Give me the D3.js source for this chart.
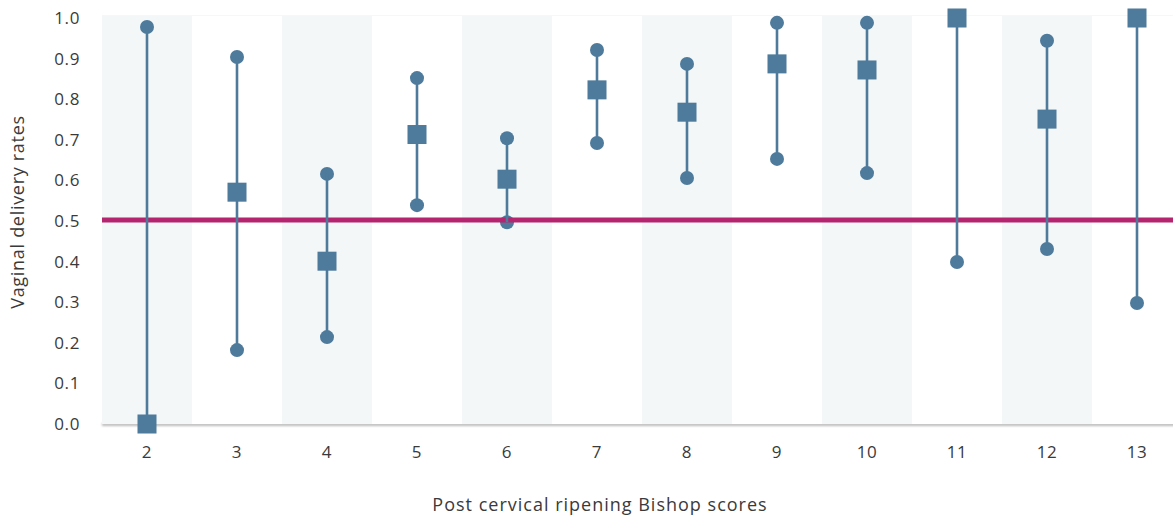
<!DOCTYPE html>
<html>
<head>
<meta charset="utf-8">
<script src="https://cdn.jsdelivr.net/npm/d3@7"></script>
<style>
  body { margin: 0; background: #fff; }
  svg { display: block; font-family: "Open Sans", "Lato", sans-serif; }
</style>
</head>
<body>
<svg id="chart" width="1173" height="519"></svg>
<script>
const categories = ["2","3","4","5","6","7","8","9","10","11","12","13"];
const estimate = [0.0, 0.571, 0.401, 0.713, 0.603, 0.823, 0.768, 0.887, 0.872, 1.0, 0.751, 1.0];
const upper    = [0.978, 0.904, 0.616, 0.852, 0.704, 0.921, 0.887, 0.988, 0.988, 1.0, 0.944, 1.0];
const lower    = [0.0, 0.182, 0.214, 0.539, 0.497, 0.692, 0.606, 0.653, 0.618, 0.399, 0.431, 0.298];
const yTicks = [0, 0.1, 0.2, 0.3, 0.4, 0.5, 0.6, 0.7, 0.8, 0.9, 1.0];
const referenceValue = 0.5;

(function () {
const svg = d3.select("#chart");
const pLeft = 102, pRight = 1182, pTop = 18, pBottom = 424;
const txt = "#3a3a3a";

const x = d3.scaleBand().domain(categories).range([pLeft, pRight]).padding(0);
const y = d3.scaleLinear().domain([0, 1]).range([pBottom, pTop]);

const defs = svg.append("defs");
const f = defs.append("filter").attr("id", "sh").attr("x", "-5%").attr("y", "-50%").attr("width", "110%").attr("height", "300%");
f.append("feGaussianBlur").attr("stdDeviation", 1.2);

// plot area background + shadow
svg.append("rect").attr("x", pLeft).attr("y", pBottom - 1).attr("width", pRight - pLeft).attr("height", 3)
  .attr("fill", "#bbb").attr("filter", "url(#sh)");
svg.append("line").attr("x1", pLeft).attr("x2", pRight).attr("y1", pTop - 2).attr("y2", pTop - 2)
  .attr("stroke", "#eee").attr("stroke-width", 1);
svg.append("rect").attr("x", pLeft).attr("y", pTop - 2).attr("width", pRight - pLeft).attr("height", pBottom - pTop + 2)
  .attr("fill", "#fff");

// alternating bands
svg.append("g").selectAll("rect").data(categories.filter((d, i) => i % 2 === 0)).join("rect")
  .attr("x", d => x(d)).attr("y", pTop - 2).attr("width", x.bandwidth()).attr("height", pBottom - pTop + 2)
  .attr("fill", "#f3f7f8");

const col = "#4e7a9b";
const data = categories.map((c, i) => ({c, e: estimate[i], u: upper[i], l: lower[i]}));
const cx = d => x(d.c) + x.bandwidth() / 2;

// circles (bounds)
const cg = svg.append("g");
cg.selectAll("circle.u").data(data).join("circle").attr("class", "u")
  .attr("cx", cx).attr("cy", d => y(d.u)).attr("r", 7).attr("fill", col);
cg.selectAll("circle.l").data(data).join("circle").attr("class", "l")
  .attr("cx", cx).attr("cy", d => y(d.l)).attr("r", 7).attr("fill", col);

// reference line
svg.append("line").attr("x1", pLeft).attr("x2", pRight)
  .attr("y1", y(referenceValue) - 1).attr("y2", y(referenceValue) - 1)
  .attr("stroke", "#b5246f").attr("stroke-width", 5);

// stems
svg.append("g").selectAll("line").data(data).join("line")
  .attr("x1", cx).attr("x2", cx)
  .attr("y1", d => y(d.u)).attr("y2", d => y(d.l))
  .attr("stroke", col).attr("stroke-width", 2.6);

// squares
const s = 19;
svg.append("g").selectAll("rect").data(data).join("rect")
  .attr("x", d => cx(d) - s / 2).attr("y", d => y(d.e) - s / 2)
  .attr("width", s).attr("height", s).attr("fill", col);

// y axis
const yAxis = svg.append("g").attr("transform", `translate(${pLeft - 22},0)`)
  .call(d3.axisLeft(y).tickValues(yTicks).tickFormat(d3.format(".1f")).tickSize(0).tickPadding(0));
yAxis.select(".domain").remove();
yAxis.selectAll("text").attr("font-size", 17).attr("letter-spacing", 0.6).attr("fill", txt)
  .attr("font-family", "Open Sans, sans-serif");

// x axis
const xAxis = svg.append("g").attr("transform", `translate(0,${pBottom})`)
  .call(d3.axisBottom(x).tickSize(0).tickPadding(22));
xAxis.select(".domain").remove();
xAxis.selectAll("text").attr("font-size", 17).attr("letter-spacing", 0.6).attr("fill", txt)
  .attr("font-family", "Open Sans, sans-serif");

// titles
svg.append("text").attr("x", 600).attr("y", 511).attr("text-anchor", "middle")
  .attr("font-size", 18).attr("letter-spacing", 1.0).attr("fill", txt).text("Post cervical ripening Bishop scores");
svg.append("text").attr("transform", "translate(24,212) rotate(-90)").attr("text-anchor", "middle")
  .attr("font-size", 18).attr("letter-spacing", 0.7).attr("fill", txt).text("Vaginal delivery rates");
})();
</script>
</body>
</html>
